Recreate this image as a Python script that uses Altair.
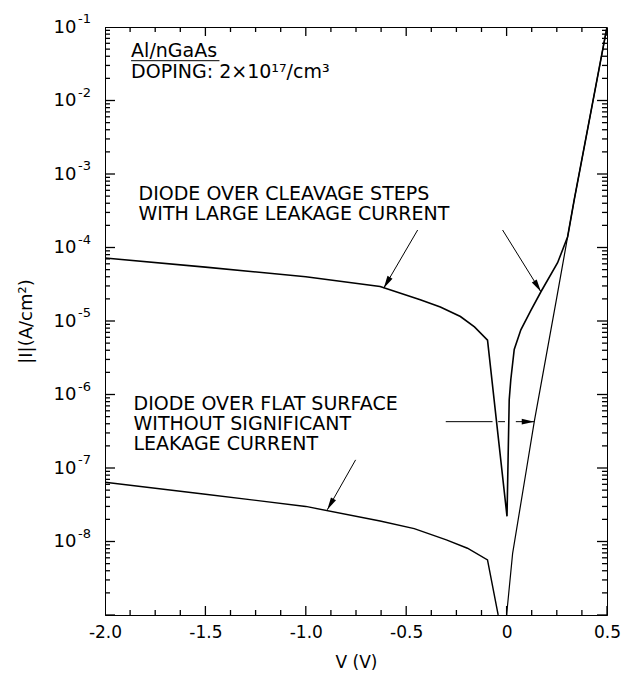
import altair as alt
import pandas as pd
import numpy as np

# ---------------- data ----------------
leak_v = [-2.0, -1.5, -1.0, -0.63, -0.43, -0.33, -0.23, -0.16, -0.095, 0.002,
          0.013, 0.021, 0.038, 0.071, 0.121, 0.171, 0.254, 0.304, 0.337, 0.5]
leak_i = [7.2e-5, 5.4e-5, 4.0e-5, 2.95e-5, 1.95e-5, 1.55e-5, 1.15e-5, 8.3e-6, 5.5e-6, 2.2e-8,
          8.5e-7, 1.6e-6, 4.1e-6, 7.6e-6, 1.4e-5, 2.5e-5, 6.2e-5, 1.4e-4, 4.5e-4, 1.0e-1]

flat_rev_v = [-2.0, -1.5, -1.0, -0.63, -0.46, -0.30, -0.195, -0.095, -0.042]
flat_rev_i = [6.4e-8, 4.4e-8, 3.0e-8, 1.9e-8, 1.5e-8, 1.05e-8, 8.1e-9, 5.6e-9, 1.0e-9]
flat_fwd_v = [0.0, 0.03, 0.10, 0.138, 0.171, 0.25, 0.304, 0.337, 0.5]
flat_fwd_i = [1.0e-9, 6.9e-9, 1.0e-7, 4.3e-7, 1.35e-6, 2.1e-5, 1.4e-4, 4.5e-4, 1.0e-1]

x_major = [-2.0, -1.5, -1.0, -0.5, 0.0, 0.5]
x_labels = ["-2.0", "-1.5", "-1.0", "-0.5", "0", "0.5"]
y_major_exp = [-1, -2, -3, -4, -5, -6, -7, -8]
y_sup_labels = ["-1", "-2", "-3", "-4", "-5", "-6", "-7", "-8"]

ann_text = ["DIODE OVER CLEAVAGE STEPS", "WITH LARGE LEAKAGE CURRENT",
            "DIODE OVER FLAT SURFACE", "WITHOUT SIGNIFICANT", "LEAKAGE CURRENT",
            "Al/nGaAs", "DOPING: 2×10¹⁷/cm³"]
ann_v = [-1.833, -1.833, -1.858, -1.858, -1.858, -1.870, -1.870]
ann_i = [4.43e-4, 2.37e-4, 6.15e-7, 3.29e-7, 1.76e-7, 3.94e-2, 2.0e-2]

underline_v = [-1.870, -1.430]
underline_i = 3.48e-2

arrow_v0 = [-0.443, -0.020, -0.752, -0.303, -0.042, 0.046]
arrow_i0 = [1.73e-4, 1.73e-4, 1.29e-7, 4.27e-7, 4.27e-7, 4.27e-7]
arrow_v1 = [-0.612, 0.171, -0.893, -0.070, -0.008, 0.138]
arrow_i1 = [2.8e-5, 2.5e-5, 2.7e-8, 4.27e-7, 4.27e-7, 4.27e-7]

head_v = [-0.612, 0.171, -0.893, 0.138]
head_i = [2.8e-5, 2.5e-5, 2.7e-8, 4.27e-7]
head_ang = [210, 148, 209.5, 90]

# ---------------- build tables ----------------
W, H = 502, 588
XMIN, XMAX = -2.0, 0.5
LMIN, LMAX = -9, -1
FONT = "DejaVu Sans"

curves = pd.concat([
    pd.DataFrame({"V": leak_v, "I": leak_i, "curve": "leak"}),
    pd.DataFrame({"V": flat_rev_v, "I": flat_rev_i, "curve": "flat_rev"}),
    pd.DataFrame({"V": flat_fwd_v, "I": flat_fwd_i, "curve": "flat_fwd"}),
], ignore_index=True)
curves["ord"] = range(len(curves))

xs = alt.Scale(domain=[XMIN, XMAX], nice=False, zero=False)
ys = alt.Scale(type="log", domain=[10.0 ** LMIN, 10.0 ** LMAX], nice=False)

label_expr = "[" + ",".join("'%s'" % s for s in x_labels) + "][round((datum.value + 2) * 2)]"

x_axis = alt.Axis(values=x_major, labelExpr=label_expr, ticks=False, tickSize=0,
                  domain=True, domainColor="black", domainWidth=1, grid=False,
                  labelFlush=False, labelOverlap=False,
                  labelFont=FONT, labelFontSize=17, labelColor="black", labelPadding=9,
                  title="V (V)", titleFont=FONT, titleFontSize=17, titleFontWeight="normal",
                  titleColor="black", titlePadding=14)
y_axis = alt.Axis(values=[10.0 ** e for e in y_major_exp], labelExpr="'10'",
                  ticks=False, tickSize=0, domain=True, domainColor="black", domainWidth=1,
                  grid=False, labelFlush=False, labelOverlap=False,
                  labelFont=FONT, labelFontSize=18, labelColor="black",
                  labelPadding=29, labelBaseline="middle",
                  title="|I|(A/cm²)", titleFont=FONT, titleFontSize=18,
                  titleFontWeight="normal", titleColor="black", titlePadding=18)


def X(field):
    return alt.X(field, scale=xs, axis=x_axis, title="V (V)")


def Y(field):
    return alt.Y(field, scale=ys, axis=y_axis, title="|I|(A/cm²)")


lines = alt.Chart(curves).mark_line(clip=True, color="black").encode(
    x=X("V:Q"), y=Y("I:Q"), detail="curve:N", order="ord:Q",
    strokeWidth=alt.StrokeWidth("curve:N", scale=alt.Scale(domain=["leak", "flat_rev", "flat_fwd"],
                                                             range=[1.6, 1.2, 1.2]), legend=None),
)

seg_rows = [(a, b, c, d) for a, b, c, d in zip(arrow_v0, arrow_v1, arrow_i0, arrow_i1)]
seg_rows.append((underline_v[0], underline_v[1], underline_i, underline_i))
seg_df = pd.DataFrame(seg_rows, columns=["V0", "V1", "I0", "I1"])
segments = alt.Chart(seg_df).mark_rule(color="black", strokeWidth=1).encode(
    x=X("V0:Q"), x2="V1:Q", y=Y("I0:Q"), y2="I1:Q")

# inward frame ticks: position from the data scale, length in pixels (outer half clipped)
x_all = [float(round(v, 3)) for v in np.arange(XMIN, XMAX + 1e-6, 0.125)]
xt_major = pd.DataFrame({"V": x_major})
xt_minor = pd.DataFrame({"V": [v for v in x_all if v not in x_major]})
yt_major = pd.DataFrame({"I": [10.0 ** e for e in range(LMIN, LMAX + 1)]})
yt_minor = pd.DataFrame({"I": [k * 10.0 ** e for e in range(LMIN, LMAX) for k in range(2, 10)]})


def tick_layer(df, orient, length, **enc):
    return alt.Chart(df).mark_tick(color="black", thickness=1.3, size=length, orient=orient,
                                   clip=True, opacity=1).encode(**enc)


tick_layers = []
for df, L in [(xt_major, 18), (xt_minor, 10)]:
    tick_layers.append(tick_layer(df, "vertical", L, x=X("V:Q"), y=alt.value(H)))
    tick_layers.append(tick_layer(df, "vertical", L, x=X("V:Q"), y=alt.value(0)))
for df, L in [(yt_major, 20), (yt_minor, 10)]:
    tick_layers.append(tick_layer(df, "horizontal", L, y=Y("I:Q"), x=alt.value(0)))
    tick_layers.append(tick_layer(df, "horizontal", L, y=Y("I:Q"), x=alt.value(W)))

sup_df = pd.DataFrame({"I": [10.0 ** e for e in y_major_exp], "sup": y_sup_labels})
sups = alt.Chart(sup_df).mark_text(align="left", baseline="alphabetic", font=FONT,
                                   fontSize=13, color="black", dy=-4).encode(
    x=alt.value(-27), y=Y("I:Q"), text="sup:N")

ann_df = pd.DataFrame({"V": ann_v, "I": ann_i, "label": ann_text})
texts = alt.Chart(ann_df).mark_text(align="left", baseline="alphabetic", font=FONT,
                                    fontSize=19, color="black").encode(
    x=X("V:Q"), y=Y("I:Q"), text="label:N")

head_df = pd.DataFrame({"V": head_v, "I": head_i, "ang": head_ang})
heads = alt.Chart(head_df).mark_point(shape="M0,0 L-0.55,2.4 L0.55,2.4 Z", filled=True,
                                      size=110, color="black", opacity=1, strokeWidth=0).encode(
    x=X("V:Q"), y=Y("I:Q"), angle=alt.Angle("ang:Q", scale=None))

chart = alt.layer(lines, segments, sups, texts, heads, *tick_layers).properties(
    width=W, height=H,
    autosize=alt.AutoSizeParams(type="none"),
    padding={"left": 105, "top": 27, "right": 24, "bottom": 60},
    background="white",
).configure_view(stroke="black", strokeWidth=1)

chart.save("out.html", embed_options={"renderer": "svg", "actions": False})
